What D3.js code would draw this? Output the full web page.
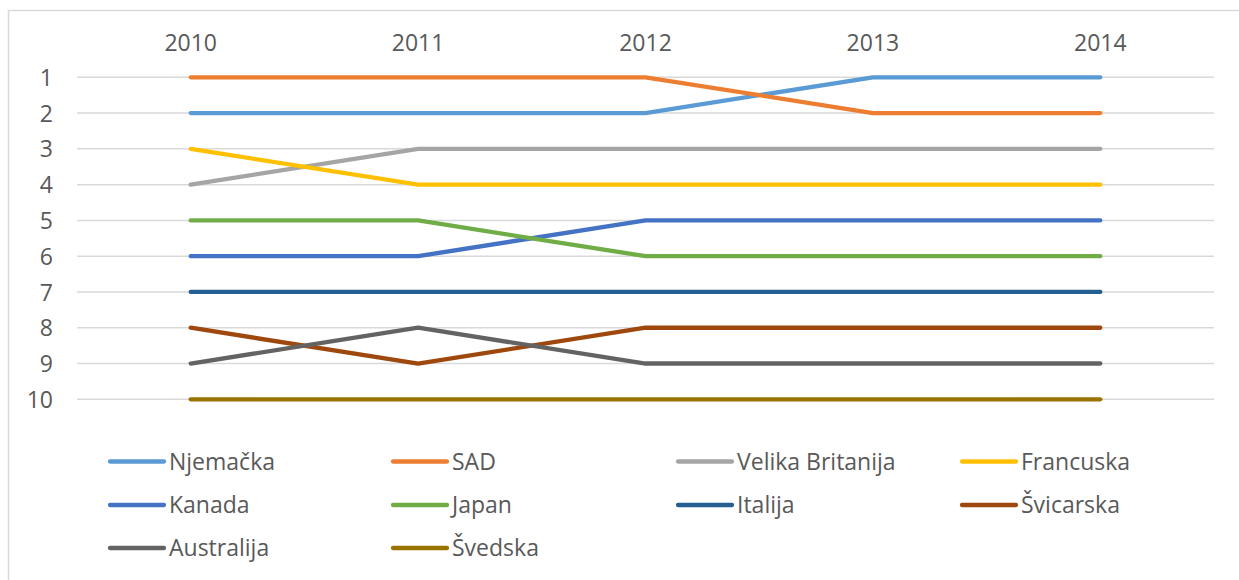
<!DOCTYPE html>
<html><head><meta charset="utf-8">
<script src="https://cdnjs.cloudflare.com/ajax/libs/d3/7.8.5/d3.min.js"></script>
<style>html,body{margin:0;padding:0;background:#fff;overflow:hidden}</style>
</head><body>
<svg id="c" width="1239" height="580"></svg>
<script>
const years = ["2010","2011","2012","2013","2014"];
const seriesNames = ["Njemačka","SAD","Velika Britanija","Francuska","Kanada","Japan","Italija","Švicarska","Australija","Švedska"];
const njemacka = [2,2,2,1,1];
const sad = [1,1,1,2,2];
const velikaBritanija = [4,3,3,3,3];
const francuska = [3,4,4,4,4];
const kanada = [6,6,5,5,5];
const japan = [5,5,6,6,6];
const italija = [7,7,7,7,7];
const svicarska = [8,9,8,8,8];
const australija = [9,8,9,9,9];
const svedska = [10,10,10,10,10];
const rankTicks = [1,2,3,4,5,6,7,8,9,10];
const colors = ["#5B9BD5","#ED7D31","#A5A5A5","#FFC000","#4472C4","#70AD47","#255E91","#9E480E","#636363","#997300"];

const allValues = [njemacka,sad,velikaBritanija,francuska,kanada,japan,italija,svicarska,australija,svedska];
const series = seriesNames.map((n,i)=>({name:n, values:allValues[i], color:colors[i]}));

const svg = d3.select("#c");
const font = "'Open Sans', sans-serif";
const textColor = "#595959";
const fs = 23;

// chart border
svg.append("path").attr("d","M8.5,580 L8.5,10.5 L1239,10.5").attr("fill","none").attr("stroke","#d9d9d9").attr("stroke-width",1.5);

const x = d3.scaleBand().domain(years).range([77,1214]);
const y = d3.scaleLinear().domain([1,10]).range([77.3,399.3]);

// gridlines
svg.append("g").selectAll("line").data(rankTicks).join("line")
  .attr("x1",77).attr("x2",1214)
  .attr("y1",d=>y(d)).attr("y2",d=>y(d))
  .attr("stroke","#d9d9d9").attr("stroke-width",1.5);

// y axis
const yAxis = d3.axisLeft(y).tickValues(rankTicks).tickSize(0).tickPadding(0);
const gy = svg.append("g").attr("transform","translate(53,0)").call(yAxis);
gy.select(".domain").remove();
gy.selectAll("text").attr("font-family",font).attr("font-size",fs).attr("fill",textColor).attr("dy","0.35em");

// x axis (top)
const xAxis = d3.axisTop(x).tickSize(0).tickPadding(0);
const gx = svg.append("g").attr("transform","translate(0,51)").call(xAxis);
gx.select(".domain").remove();
gx.selectAll("text").attr("font-family",font).attr("font-size",fs).attr("fill",textColor);

const cx = d => x(d)+x.bandwidth()/2;
const line = d3.line().x((d,i)=>cx(years[i])).y(d=>y(d));

svg.append("g").selectAll("path").data(series).join("path")
  .attr("d",d=>line(d.values))
  .attr("fill","none").attr("stroke",d=>d.color)
  .attr("stroke-width",4.3).attr("stroke-linecap","round").attr("stroke-linejoin","round");

// legend
const colX = [110,393,678,962];
const rowY = [461.5,505,548];
const lg = svg.append("g").selectAll("g").data(series).join("g")
  .attr("transform",(d,i)=>`translate(${colX[i%4]},${rowY[Math.floor(i/4)]})`);
lg.append("line").attr("x1",0).attr("x2",54).attr("y1",0).attr("y2",0)
  .attr("stroke",d=>d.color).attr("stroke-width",4.3).attr("stroke-linecap","round");
lg.append("text").attr("x",59).attr("y",0).attr("dy","0.35em")
  .attr("font-family",font).attr("font-size",fs).attr("fill",textColor).text(d=>d.name);
</script>
</body></html>
